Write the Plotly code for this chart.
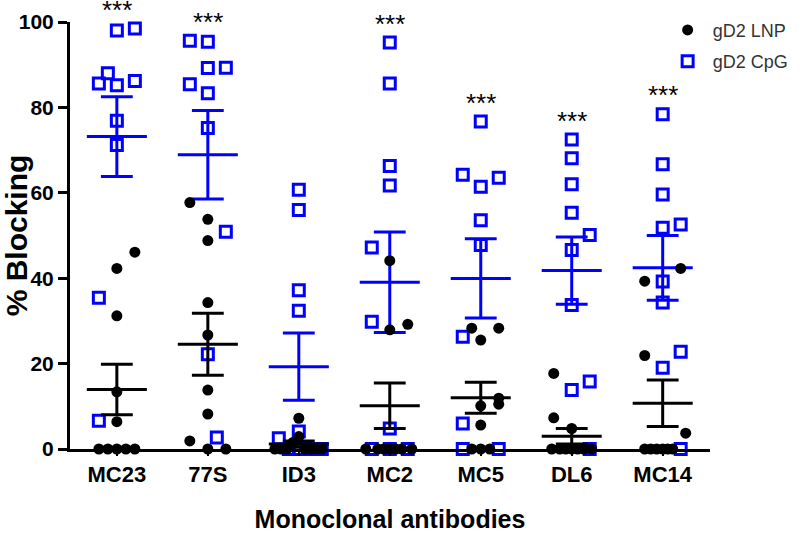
import numpy as np
import plotly.graph_objects as go

categories = ["MC23", "77S", "ID3", "MC2", "MC5", "DL6", "MC14"]
significance = ["***", "***", "", "***", "***", "***", "***"]

# % blocking, gD2 LNP (black dots), per antibody
lnp_values = [
    [46.1, 42.3, 31.2, 13.4, 6.4, 0, 0, 0, 0, 0],
    [57.7, 53.8, 48.8, 34.3, 26.7, 13.8, 8.2, 1.9, 0, 0],
    [7.2, 2.9, 1.5, 0, 0, 0, 0, 0, 0, 0],
    [44.1, 27.9, 29.2, 0, 0, 0, 0, 0, 0, 0],
    [28.3, 28.3, 25.5, 11.9, 10.5, 10.1, 5.6, 0, 0, 0],
    [17.7, 7.3, 4.8, 0, 0, 0, 0, 0, 0, 0],
    [42.3, 39.3, 21.9, 3.7, 0, 0, 0, 0, 0, 0],
]
# % blocking, gD2 CpG (blue open squares), per antibody
cpg_values = [
    [98.0, 98.5, 88.0, 85.6, 85.2, 86.2, 76.9, 71.2, 35.4, 6.6],
    [95.6, 95.4, 89.2, 89.3, 85.4, 83.3, 75.2, 50.9, 22.2, 2.7],
    [60.7, 56.0, 37.2, 32.4, 4.1, 2.5, 0, 0, 0, 0],
    [95.2, 85.6, 66.3, 61.7, 47.2, 29.8, 4.8, 0, 0, 0],
    [76.7, 64.2, 61.4, 63.5, 53.6, 47.8, 26.3, 6.0, 0, 0],
    [72.5, 68.1, 62.0, 55.3, 50.1, 46.6, 33.7, 13.8, 15.8, 0],
    [78.4, 66.7, 59.6, 51.8, 52.6, 39.2, 34.3, 22.8, 19.0, 0],
]

# horizontal scatter (jitter) of each point, in pixels
lnp_jitter = [
    [18, 0, 0, 0, 0, -18, -9, 0, 9, 18],
    [-18, 0, 0, 0, 0, 0, 0, -18, 0, 18],
    [0, 0, -6, -18, -12, 6, 12, 18, 23, -24],
    [0, 0, 18, -24, -12, -6, 0, 6, 12, 22],
    [-9, 18, 0, 18, 18, 0, 0, -9, 0, 9],
    [-18, -18, 0, -20, -12, -6, 0, 6, 12, 20],
    [18, -18, -18, 23, -18, -12, -6, 0, 5, 10],
]
cpg_jitter = [
    [0, 18, -9, -18, 0, 18, 0, 0, -18, -18],
    [-18, 0, 0, 18, -18, 0, 0, 18, 0, 9],
    [0, 0, 0, 0, 0, -20, 23, 12, -10, 0],
    [0, 0, 0, 0, -18, -18, 0, -18, 0, 18],
    [0, -18, 0, 18, 0, 0, -18, -18, -18, 18],
    [0, 0, 0, 0, 18, 0, 0, 0, 18, 18],
    [0, 0, 0, 0, 18, 0, 0, 18, 0, 18],
]

PX_PER_CAT = 91.0
BLUE = "#0000FF"
FONT = "Arial, Liberation Sans, sans-serif"
Y_MAX = 100.0


def points(values, jitter):
    xs, ys = [], []
    for i, (vals, jit) in enumerate(zip(values, jitter)):
        for v, j in zip(vals, jit):
            xs.append(i + j / PX_PER_CAT)
            ys.append(v)
    return xs, ys


def mean_sem(values):
    xs, ys = [], []
    for i, vals in enumerate(values):
        a = np.array(vals, dtype=float)
        m = a.mean()
        s = a.std(ddof=1) / np.sqrt(len(a))
        w, c = 0.33, 0.175
        xs += [i - w, i + w, None, i, i, None, i - c, i + c, None, i - c, i + c, None]
        ys += [m, m, None, m - s, m + s, None, m + s, m + s, None, m - s, m - s, None]
    return xs, ys


fig = go.Figure()

lx, ly = points(lnp_values, lnp_jitter)
cx, cy = points(cpg_values, cpg_jitter)

fig.add_trace(go.Scatter(
    x=cx, y=cy, mode="markers", name="gD2 CpG", legendgroup="b", legendrank=2,
    marker=dict(symbol="square-open", size=11, color=BLUE, line=dict(width=3, color=BLUE)),
    cliponaxis=False,
))
ex, ey = mean_sem(cpg_values)
fig.add_trace(go.Scatter(x=ex, y=ey, mode="lines", line=dict(color=BLUE, width=3),
                         showlegend=False, cliponaxis=False, hoverinfo="skip"))

fig.add_trace(go.Scatter(
    x=lx, y=ly, mode="markers", name="gD2 LNP", legendgroup="a", legendrank=1,
    marker=dict(symbol="circle", size=11, color="black"),
    cliponaxis=False,
))
ex, ey = mean_sem(lnp_values)
fig.add_trace(go.Scatter(x=ex, y=ey, mode="lines", line=dict(color="black", width=3),
                         showlegend=False, cliponaxis=False, hoverinfo="skip"))

for i, (lab, vals) in enumerate(zip(significance, cpg_values)):
    if lab:
        fig.add_annotation(x=i, xref="x", y=(max(vals) + 4.4) / Y_MAX, yref="paper",
                           text=lab, showarrow=False,
                           font=dict(family=FONT, size=26, color="black"),
                           xanchor="center", yanchor="middle")

fig.update_layout(
    width=800, height=533,
    margin=dict(l=70, r=90, t=22, b=84, autoexpand=False),
    plot_bgcolor="white", paper_bgcolor="white",
    font=dict(family=FONT, color="black"),
    showlegend=True,
    legend=dict(x=0.926, y=1.024, xanchor="left", yanchor="top",
                font=dict(family=FONT, size=18, color="#333333"),
                traceorder="grouped", tracegroupgap=5, itemwidth=40,
                bgcolor="rgba(0,0,0,0)"),
    xaxis=dict(
        range=[-0.515, 6.52],
        tickmode="array", tickvals=list(range(len(categories))), ticktext=categories,
        tickfont=dict(family=FONT, size=22, color="black", weight="bold"),
        showline=True, linecolor="black", linewidth=3,
        ticks="outside", ticklen=4, tickwidth=2, tickcolor="black",
        showgrid=False, zeroline=False,
        title=dict(text="Monoclonal antibodies", standoff=30,
                   font=dict(family=FONT, size=25, color="black", weight="bold")),
    ),
    yaxis=dict(
        range=[0, Y_MAX], tickvals=[0, 20, 40, 60, 80, 100],
        tickfont=dict(family=FONT, size=21, color="black", weight="bold"),
        showline=True, linecolor="black", linewidth=3,
        ticks="outside", ticklen=9, tickwidth=3, tickcolor="black",
        showgrid=False, zeroline=False,
        title=dict(text="% Blocking", standoff=14,
                   font=dict(family=FONT, size=30, color="black", weight="bold")),
    ),
)

fig.write_html("out.html", config={"displayModeBar": False},
               post_script="document.body.style.margin='0';")
